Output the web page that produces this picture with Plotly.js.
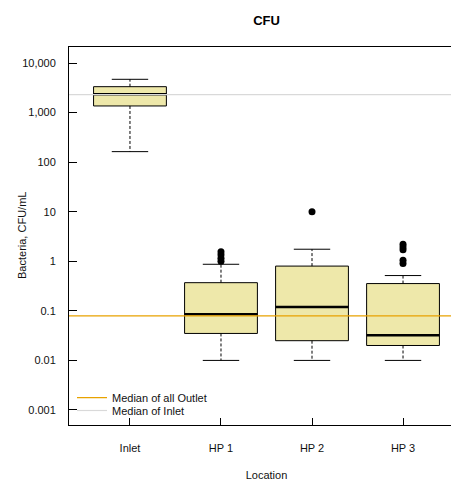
<!DOCTYPE html>
<html><head><meta charset="utf-8">
<script src="https://cdn.plot.ly/plotly-3.0.1.min.js"></script>
<style>html,body{margin:0;padding:0;overflow:hidden;background:#fff}</style>
</head><body><div id="chart" style="width:470px;height:481px"></div>
<script>
// ---- data ----
const categories = ['Inlet', 'HP 1', 'HP 2', 'HP 3'];
const lowerWhisker = [163, 0.01, 0.01, 0.01];
const q1Values = [1360, 0.035, 0.025, 0.02];
const medianValues = [2340, 0.085, 0.12, 0.032];
const q3Values = [3330, 0.37, 0.80, 0.355];
const upperWhisker = [4690, 0.87, 1.75, 0.515];
const outlierValues = [[], [1.0, 1.15, 1.35, 1.55], [10], [0.9, 1.05, 1.7, 1.95, 2.2]];
const medianAllOutlet = 0.079;
const medianInlet = 2300;
const yTickVals = [10000, 1000, 100, 10, 1, 0.1, 0.01, 0.001];
const yTickText = ['10,000', '1,000', '100', '10', '1', '0.1', '0.01', '0.001'];

// ---- styling ----
const FONT = 'Liberation Sans, Arial, sans-serif';
const BOX_HALF = 0.4, CAP_HALF = 0.2;
const X_RANGE = [-0.67, 3.67];
const traces = [];

categories.forEach((cat, i) => {
  traces.push({
    type: 'scatter', mode: 'lines', showlegend: false, hoverinfo: 'skip',
    x: [i - BOX_HALF, i + BOX_HALF, i + BOX_HALF, i - BOX_HALF, i - BOX_HALF],
    y: [q1Values[i], q1Values[i], q3Values[i], q3Values[i], q1Values[i]],
    fill: 'toself', fillcolor: '#EEE8AA',
    line: {color: '#000', width: 1}
  });
  traces.push({
    type: 'scatter', mode: 'lines', showlegend: false, hoverinfo: 'skip',
    x: [i, i, null, i, i],
    y: [q3Values[i], upperWhisker[i], null, q1Values[i], lowerWhisker[i]],
    line: {color: '#000', width: 1, dash: '3px,2px'}
  });
  traces.push({
    type: 'scatter', mode: 'lines', showlegend: false, hoverinfo: 'skip',
    x: [i - CAP_HALF, i + CAP_HALF, null, i - CAP_HALF, i + CAP_HALF],
    y: [upperWhisker[i], upperWhisker[i], null, lowerWhisker[i], lowerWhisker[i]],
    line: {color: '#000', width: 1}
  });
  traces.push({
    type: 'scatter', mode: 'lines', showlegend: false, hoverinfo: 'skip',
    x: [i - BOX_HALF, i + BOX_HALF],
    y: [medianValues[i], medianValues[i]],
    line: {color: '#000', width: 2.5}
  });
  if (outlierValues[i].length) {
    traces.push({
      type: 'scatter', mode: 'markers', showlegend: false, hoverinfo: 'skip',
      x: outlierValues[i].map(() => i),
      y: outlierValues[i],
      marker: {color: '#000', size: 7, symbol: 'circle'}
    });
  }
});

traces.push({
  type: 'scatter', mode: 'lines', name: 'Median of all Outlet', legend: 'legend',
  x: [X_RANGE[0] - 1, X_RANGE[1] + 1], y: [medianAllOutlet, medianAllOutlet],
  line: {color: '#E8A200', width: 1.2}
});
traces.push({
  type: 'scatter', mode: 'lines', name: 'Median of Inlet', legend: 'legend2',
  x: [X_RANGE[0] - 1, X_RANGE[1] + 1], y: [medianInlet, medianInlet],
  line: {color: '#D9D9D9', width: 1.2}
});

const legendBase = {
  xanchor: 'left', yanchor: 'bottom',
  bgcolor: 'rgba(0,0,0,0)', borderwidth: 0,
  font: {family: FONT, size: 11, color: '#111'}, itemwidth: 30
};

const layout = {
  width: 470, height: 481,
  margin: {l: 69, r: 6, t: 47, b: 56},
  paper_bgcolor: '#fff', plot_bgcolor: '#fff',
  font: {family: FONT, size: 11, color: '#111'},
  title: {text: '<b>CFU</b>', x: 0.5, xref: 'paper', xanchor: 'center',
          y: 1 - 20 / 481, yref: 'container', yanchor: 'middle',
          font: {family: FONT, size: 13, color: '#000'}},
  xaxis: {
    range: X_RANGE, tickmode: 'array', tickvals: categories.map((c, i) => i), ticktext: categories,
    ticks: 'inside', ticklen: 7, tickcolor: '#000', tickwidth: 1,
    showline: true, linecolor: '#000', linewidth: 1, mirror: true,
    showgrid: false, zeroline: false, ticklabelstandoff: 13,
    tickfont: {family: FONT, size: 11, color: '#111'},
    title: {text: 'Location', standoff: 22, font: {family: FONT, size: 11, color: '#111'}}
  },
  yaxis: {
    type: 'log', range: [-3.303, 4.323],
    tickmode: 'array', tickvals: yTickVals, ticktext: yTickText,
    ticks: 'inside', ticklen: 8, tickcolor: '#000', tickwidth: 1,
    showline: true, linecolor: '#000', linewidth: 1, mirror: true,
    showgrid: false, zeroline: false, ticklabelstandoff: 10,
    tickfont: {family: FONT, size: 11, color: '#111'}
  },
  annotations: [{
    text: 'Bacteria, CFU/mL', textangle: -90, showarrow: false,
    xref: 'paper', yref: 'paper', x: (22 - 69) / 395, y: 0.5,
    xanchor: 'center', yanchor: 'middle',
    font: {family: FONT, size: 11, color: '#111'}
  }],
  legend: Object.assign({}, legendBase, {x: 0.0076, y: 0.034}),
  legend2: Object.assign({}, legendBase, {x: 0.0076, y: 0}),
  showlegend: true
};

Plotly.newPlot('chart', traces, layout, {staticPlot: true, displayModeBar: false});
</script></body></html>
